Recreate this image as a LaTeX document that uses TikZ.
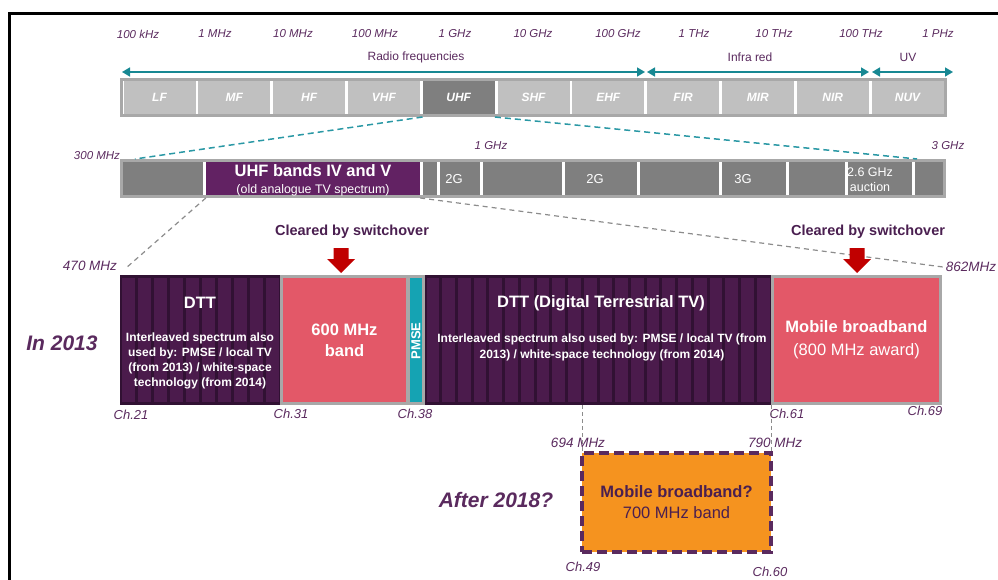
\documentclass[tikz,border=0pt]{standalone}
\usepackage{fontspec}
\setmainfont{Liberation Sans}
\usetikzlibrary{arrows.meta}

\definecolor{labpurple}{HTML}{5A2A5E}
\definecolor{darkpurple}{HTML}{4A1F50}
\definecolor{tealline}{HTML}{178893}
\definecolor{tealdashc}{HTML}{2A98A5}
\definecolor{barborder}{HTML}{A8A8A8}
\definecolor{lightcell}{HTML}{C0C0C0}
\definecolor{midcell}{HTML}{7F7F7F}
\definecolor{uhfpurple}{HTML}{622263}
\definecolor{dttgap}{HTML}{311133}
\definecolor{dttstripe}{HTML}{4B1B4C}
\definecolor{pinkband}{HTML}{E35868}
\definecolor{pmseteal}{HTML}{15A3B3}
\definecolor{orangeband}{HTML}{F5931F}
\definecolor{arrowred}{HTML}{C00000}
\definecolor{dashgray}{HTML}{8C8C8C}

\tikzset{
  freqlab/.style={font=\fontsize{11.5}{13}\selectfont\itshape, text=labpurple, inner sep=1pt},
  mhzlab/.style={font=\fontsize{13.5}{15}\selectfont\itshape, text=labpurple, inner sep=1pt},
  chanlab/.style={font=\fontsize{13}{15}\selectfont\itshape, text=labpurple, inner sep=1pt},
  spanlab/.style={font=\fontsize{12}{14}\selectfont, text=labpurple, inner sep=1pt},
  yearlab/.style={font=\fontsize{21}{24}\selectfont\bfseries\itshape, text=labpurple, inner sep=1pt},
  clearlab/.style={font=\fontsize{14.5}{17}\selectfont\bfseries, text=darkpurple, inner sep=1pt},
  spanarrow/.style={draw=tealline, line width=1.5pt,
    {Triangle[length=8pt,width=9pt]}-{Triangle[length=8pt,width=9pt]}},
  barframe/.style={rectangle, draw=barborder, line width=3pt, fill=white, inner sep=0},
  bandcell/.style={rectangle, minimum width=72pt, minimum height=33pt, inner sep=0,
    font=\fontsize{12}{14}\selectfont\bfseries\itshape, text=white},
  rowcell/.style={rectangle, fill=midcell, minimum height=33pt, inner sep=0},
  rowtext/.style={font=\fontsize{13}{15}\selectfont, text=white, inner sep=0},
  tealdash/.style={draw=tealdashc, line width=1.5pt, dash pattern=on 6pt off 4pt},
  graydash/.style={draw=dashgray, line width=1.2pt, dash pattern=on 5pt off 4pt},
  vdash/.style={draw=dashgray, line width=1pt, dash pattern=on 4pt off 3pt},
  dttbox/.style={rectangle, fill=dttgap, inner sep=0, minimum height=130pt},
  pinkbox/.style={rectangle, fill=pinkband, draw=barborder, line width=3pt, inner sep=0,
    minimum height=127pt, text=white, align=center},
  whitetitle/.style={font=\fontsize{16.5}{20}\selectfont\bfseries, text=white, inner sep=0},
  whitenote/.style={font=\fontsize{12}{15}\selectfont\bfseries, text=white, inner sep=0, align=center},
  orangebox/.style={rectangle, fill=orangeband, draw=labpurple, line width=4pt,
    dash pattern=on 10pt off 5pt, inner sep=0, outer sep=0, align=center, text=darkpurple,
    font=\fontsize{16.5}{21}\selectfont},
  downarrow/.pic={\fill[arrowred] (-7.5,0) -- (7.5,0) -- (7.5,11) -- (14,11) -- (0,25)
    -- (-14,11) -- (-7.5,11) -- cycle;}
}

\begin{document}
\begin{tikzpicture}[x=1pt,y=-1pt]
\useasboundingbox (0,0) rectangle (998,580);

% frame
\draw[line width=3pt] (998,14) -- (9,14) -- (9,580);

% frequency decades
\foreach \x/\t [count=\i] in {138/100 kHz, 215/1 MHz, 293/10 MHz, 375/100 MHz, 455/1 GHz,
    533/10 GHz, 618/100 GHz, 694/1 THz, 774/10 THz, 861/100 THz, 938/1 PHz}
  \node[freqlab] (dec\i) at (\x,34) {\t};

% spectrum ranges
\coordinate (rfL) at (122,72);  \coordinate (rfR) at (645,72);
\coordinate (irL) at (647,72);  \coordinate (irR) at (869,72);
\coordinate (uvL) at (872,72);  \coordinate (uvR) at (953,72);
\draw[spanarrow] (rfL) -- (rfR);
\draw[spanarrow] (irL) -- (irR);
\draw[spanarrow] (uvL) -- (uvR);
\node[spanlab] (rflab) at (416,57) {Radio frequencies};
\node[spanlab] (irlab) at (750,57) {Infra red};
\node[spanlab] (uvlab) at (908,57) {UV};

% band designation bar
\node[barframe, minimum width=824pt, minimum height=36pt] (bandrow) at (533.5,97.5) {};
\foreach \t/\c [count=\i from 0] in {LF/lightcell, MF/lightcell, HF/lightcell, VHF/lightcell,
    UHF/midcell, SHF/lightcell, EHF/lightcell, FIR/lightcell, MIR/lightcell, NIR/lightcell,
    NUV/lightcell}
  \node[bandcell, fill=\c] (b\t) at ({159.5+74.8*\i},97.5) {\t};

% 300 MHz - 3 GHz bar
\node[barframe, minimum width=823pt, minimum height=36pt] (row2) at (533,178.5) {};
\node[rowcell, minimum width=80pt]  (r1)    at (163,178.5) {};
\node[rowcell, minimum width=214pt, fill=uhfpurple] (uhftv) at (313,178.5) {};
\node[rowcell, minimum width=14pt]  (r3)    at (430,178.5) {};
\node[rowcell, minimum width=40pt]  (r4)    at (460,178.5) {};
\node[rowcell, minimum width=79pt]  (r5)    at (522.5,178.5) {};
\node[rowcell, minimum width=72pt]  (r6)    at (601,178.5) {};
\node[rowcell, minimum width=79pt]  (r7)    at (679.5,178.5) {};
\node[rowcell, minimum width=64pt]  (r8)    at (754,178.5) {};
\node[rowcell, minimum width=56pt]  (r9)    at (817,178.5) {};
\node[rowcell, minimum width=64pt]  (r10)   at (880,178.5) {};
\node[rowcell, minimum width=28pt]  (r11)   at (929,178.5) {};

\node[font=\fontsize{16.5}{19}\selectfont\bfseries, text=white, inner sep=0] (uhftitle) at (313,171) {UHF bands IV and V};
\node[font=\fontsize{12.4}{14}\selectfont, text=white, inner sep=0] (uhfsub) at (313,190) {(old analogue TV spectrum)};
\node[rowtext] (g2a) at (454,179) {2G};
\node[rowtext] (g2b) at (595,179) {2G};
\node[rowtext] (g3)  at (743,179) {3G};
\node[rowtext, font=\fontsize{12.5}{15}\selectfont, align=center] (auct) at (870,179.5) {2.6 GHz\\auction};

\node[freqlab] (l300) at (97,156) {300 MHz};
\node[freqlab] (l1g)  at (491,146) {1 GHz};
\node[freqlab] (l3g)  at (948,146) {3 GHz};

% zoom lines from UHF to the 300 MHz - 3 GHz bar
\coordinate (z300) at (135,159);
\coordinate (z3g)  at (917,159);
\draw[tealdash] (bUHF.south west |- bandrow.south) -- (z300);
\draw[tealdash] (bUHF.south east |- bandrow.south) -- (z3g);

% zoom lines from bands IV and V to the channel plan
\node[mhzlab] (l470) at (90,266) {470 MHz};
\node[mhzlab] (l862) at (971,267) {862MHz};
\coordinate (z470) at (126,268);
\coordinate (z862) at (943,267);
\draw[graydash] (uhftv.south west |- row2.south) -- (z470);
\draw[graydash] (uhftv.south east |- row2.south) -- (z862);

% channel plan in 2013
\node[dttbox, minimum width=160pt] (dttA) at (200,340) {};
\foreach \i in {0,...,9}
  \fill[dttstripe] ({121.5+16*\i},278) rectangle ++(13,124);
\node[dttbox, minimum width=346pt] (dttB) at (598,340) {};
\foreach \i in {0,...,21}
  \fill[dttstripe] ({426.5+15.73*\i},278) rectangle ++(12.7,124);

\node[pinkbox, minimum width=126pt, font=\fontsize{16.5}{21}\selectfont\bfseries] (band600) at (344.5,340) {600 MHz\\band};
\node[rectangle, fill=pmseteal, draw=barborder, line width=3pt, inner sep=0,
  minimum width=15pt, minimum height=127pt] (pmse) at (416,340) {};
\node[rotate=90, font=\fontsize{13}{15}\selectfont\bfseries, text=white, inner sep=0] (pmselab) at (416,341) {PMSE};
\node[pinkbox, minimum width=168pt, font=\fontsize{16.5}{23}\selectfont] (mobile) at (856.5,340)
  {\textbf{Mobile broadband}\\(800 MHz award)};

\node[whitetitle] (dttAtitle) at (200,303) {DTT};
\node[whitenote] (dttAnote) at (200,360.5) {Interleaved spectrum also\\used by: PMSE / local TV\\(from 2013) / white-space\\technology (from 2014)};
\node[whitetitle] (dttBtitle) at (601,303) {DTT (Digital Terrestrial TV)};
\node[whitenote, font=\fontsize{12}{16}\selectfont\bfseries] (dttBnote) at (602,347) {Interleaved spectrum also used by: PMSE / local TV (from\\2013) / white-space technology (from 2014)};

\node[yearlab] (y2013) at (62,343) {In 2013};

% spectrum cleared by switchover
\node[clearlab] (clrL) at (352,232) {Cleared by switchover};
\node[clearlab] (clrR) at (868,232) {Cleared by switchover};
\pic (arrL) at (341,248) {downarrow};
\pic (arrR) at (857,248) {downarrow};

\node[chanlab] (ch21) at (131,415) {Ch.21};
\node[chanlab] (ch31) at (291,414) {Ch.31};
\node[chanlab] (ch38) at (415,414) {Ch.38};
\node[chanlab] (ch61) at (787,414) {Ch.61};
\node[chanlab] (ch69) at (925,411) {Ch.69};

% 700 MHz band after 2018
\node[orangebox, minimum width=189pt, minimum height=99pt] (band700) at (676.5,502.5)
  {\textbf{Mobile broadband?}\\700 MHz band};
\draw[vdash] (band700.north west |- dttB.south) -- (band700.north west);
\draw[vdash] (band700.north east |- dttB.south) -- (band700.north east);

\node[mhzlab] (l694) at (578,443) {694 MHz};
\node[mhzlab] (l790) at (775,443) {790 MHz};
\node[chanlab] (ch49) at (583,567) {Ch.49};
\node[chanlab] (ch60) at (770,572) {Ch.60};
\node[yearlab] (y2018) at (496,500) {After 2018?};
\end{tikzpicture}
\end{document}
